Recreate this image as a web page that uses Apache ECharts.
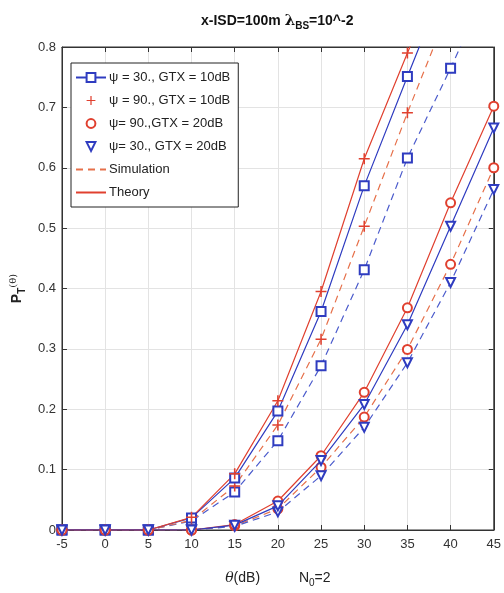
<!DOCTYPE html>
<html>
<head>
<meta charset="utf-8">
<script src="https://cdn.jsdelivr.net/npm/echarts@6/dist/echarts.min.js"></script>
<style>
  html, body { margin: 0; padding: 0; background: #fff; }
  #main { width: 504px; height: 593px; }
</style>
</head>
<body>
<div id="main"></div>
<script>
// x values (dB)
var theta = [-5, 0, 5, 10, 15, 20, 25, 30, 35, 40, 45];

// psi = 30, GTX = 10dB (squares)
var sq10Theory = [0, 0, 0, 0.02, 0.086, 0.197, 0.362, 0.57, 0.751, 0.93, null];
var sq10Sim = [0, 0, 0, 0.015, 0.063, 0.148, 0.272, 0.431, 0.616, 0.765, 0.92];
// psi = 90, GTX = 10dB (plus)
var plus10Theory = [0, 0, 0, 0.021, 0.093, 0.214, 0.395, 0.615, 0.79, 0.96, null];
var plus10Sim = [0, 0, 0, 0.016, 0.073, 0.174, 0.316, 0.503, 0.691, 0.87, null];
// psi = 90, GTX = 20dB (circles)
var circ20Theory = [0, 0, 0, 0, 0.009, 0.048, 0.123, 0.228, 0.368, 0.542, 0.702];
var circ20Sim = [0, 0, 0, 0, 0.007, 0.035, 0.104, 0.187, 0.299, 0.44, 0.6];
// psi = 30, GTX = 20dB (down triangles)
var tri20Theory = [0, 0, 0, 0, 0.008, 0.04, 0.115, 0.208, 0.34, 0.503, 0.666];
var tri20Sim = [0, 0, 0, 0, 0.006, 0.03, 0.09, 0.17, 0.277, 0.41, 0.564];

var legendNames = ['ψ = 30., GTX = 10dB', 'ψ = 90., GTX = 10dB', 'ψ= 90.,GTX = 20dB', 'ψ= 30., GTX = 20dB', 'Simulation', 'Theory'];

var blue = '#2f3cc0', blueDash = '#4b5bcc';
var red = '#e0402f', redDash = '#e6704a';
var plusPath = 'path://M4.3,0h1.4v4.3h4.3v1.4h-4.3v4.3h-1.4v-4.3h-4.3v-1.4h4.3z';
var font = "'Liberation Sans Narrow', 'Liberation Sans', Arial, sans-serif";

function pairs(arr) {
  var out = [];
  for (var i = 0; i < theta.length; i++) out.push([theta[i], arr[i]]);
  return out;
}

function line(name, data, color, dashed, symbol, rotate, markerColor) {
  return {
    name: name,
    type: 'line',
    data: pairs(data),
    symbol: symbol,
    symbolSize: symbol === plusPath ? 11 : 9,
    symbolRotate: rotate || 0,
    clip: true,
    z: dashed ? 2 : 3,
    lineStyle: { color: color, width: 1.2, type: dashed ? [7, 5] : 'solid' },
    itemStyle: { color: markerColor, borderWidth: 1.2 },
    emphasis: { disabled: true }
  };
}

var chart = echarts.init(document.getElementById('main'));
chart.setOption({
  animation: false,
  backgroundColor: '#fff',
  title: {
    text: '{a|x-ISD=100m }{l|λ}{s|BS}{a|=10^-2}',
    left: 196,
    top: 6,
    textStyle: {
      rich: {
        a: { fontSize: 14, fontWeight: 'bold', color: '#111', fontFamily: font },
        l: { fontSize: 15, color: '#111', fontFamily: 'DejaVu Serif' },
        s: { fontSize: 10, fontWeight: 'bold', color: '#111', fontFamily: font, padding: [10, 0, 0, 0] }
      }
    }
  },
  grid: { left: 58, right: 8, top: 47, bottom: 63, show: true, borderColor: '#333', borderWidth: 1 },
  legend: {
    orient: 'vertical',
    left: 71,
    top: 63,
    padding: [8, 8, 8, 4],
    backgroundColor: '#fff',
    borderColor: '#222',
    borderWidth: 1,
    itemWidth: 30,
    itemHeight: 11,
    itemGap: 10,
    selectedMode: false,
    textStyle: { fontSize: 13, color: '#222', fontFamily: font, padding: [0, 0, 0, -2] },
    data: [
      { name: legendNames[0] },
      { name: legendNames[1], lineStyle: { opacity: 0 } },
      { name: legendNames[2], lineStyle: { opacity: 0 } },
      { name: legendNames[3], lineStyle: { opacity: 0 } },
      { name: legendNames[4], itemStyle: { opacity: 0 } },
      { name: legendNames[5], itemStyle: { opacity: 0 } }
    ]
  },
  xAxis: [{
    type: 'value',
    min: -5, max: 45, interval: 5,
    name: '{i|θ}{n|(dB)          N}{sub|0}{n|=2}',
    nameLocation: 'middle',
    nameGap: 38,
    nameTextStyle: {
      rich: {
        i: { fontSize: 14, fontStyle: 'italic', color: '#222', fontFamily: 'DejaVu Serif' },
        n: { fontSize: 14, color: '#222', fontFamily: font },
        sub: { fontSize: 10, color: '#222', fontFamily: font, padding: [10, 0, 0, 0] }
      }
    },
    axisLine: { show: true, onZero: false, lineStyle: { color: '#333' } },
    axisTick: { inside: true, length: 5, lineStyle: { color: '#333' } },
    axisLabel: { fontSize: 13, color: '#333', fontFamily: font, margin: 8 },
    splitLine: { show: true, lineStyle: { color: '#e3e3e3' } }
  }, {
    type: 'value', position: 'top',
    min: -5, max: 45, interval: 5,
    axisLine: { show: true, onZero: false, lineStyle: { color: '#333' } },
    axisTick: { inside: true, length: 5, lineStyle: { color: '#333' } },
    axisLabel: { show: false },
    splitLine: { show: false }
  }],
  yAxis: [{
    type: 'value',
    min: 0, max: 0.8, interval: 0.1,
    name: '{p|P}{sub|T}{sup|(θ)}',
    nameLocation: 'middle',
    nameRotate: 90,
    nameGap: 34,
    nameTextStyle: {
      rich: {
        p: { fontSize: 14, fontWeight: 'bold', color: '#222', fontFamily: font },
        sub: { fontSize: 10, fontWeight: 'bold', color: '#222', fontFamily: font, padding: [10, 0, 0, 0] },
        sup: { fontSize: 10, color: '#222', fontFamily: 'DejaVu Serif', padding: [0, 0, 8, 0] }
      }
    },
    axisLine: { show: true, onZero: false, lineStyle: { color: '#333' } },
    axisTick: { show: true, inside: true, length: 5, lineStyle: { color: '#333' } },
    axisLabel: { fontSize: 13, color: '#333', fontFamily: font, margin: 6 },
    splitLine: { show: true, lineStyle: { color: '#e3e3e3' } }
  }, {
    type: 'value', position: 'right',
    min: 0, max: 0.8, interval: 0.1,
    axisLine: { show: true, onZero: false, lineStyle: { color: '#333' } },
    axisTick: { show: true, inside: true, length: 5, lineStyle: { color: '#333' } },
    axisLabel: { show: false },
    splitLine: { show: false }
  }],
  series: [
    line('sim-sq10', sq10Sim, blueDash, true, 'emptyRect', 0, blue),
    line('sim-plus10', plus10Sim, redDash, true, plusPath, 0, red),
    line('sim-circ20', circ20Sim, redDash, true, 'emptyCircle', 0, red),
    line('sim-tri20', tri20Sim, blueDash, true, 'emptyTriangle', 180, blue),
    line(legendNames[0], sq10Theory, blue, false, 'emptyRect', 0, blue),
    line(legendNames[1], plus10Theory, red, false, plusPath, 0, red),
    line(legendNames[2], circ20Theory, red, false, 'emptyCircle', 0, red),
    line(legendNames[3], tri20Theory, blue, false, 'emptyTriangle', 180, blue),
    { name: legendNames[4], type: 'line', data: [], symbol: 'none', itemStyle: { color: redDash }, lineStyle: { color: redDash, width: 1.2, type: [7, 5] } },
    { name: legendNames[5], type: 'line', data: [], symbol: 'none', itemStyle: { color: red }, lineStyle: { color: red, width: 1.2 } }
  ]
});
</script>
</body>
</html>
